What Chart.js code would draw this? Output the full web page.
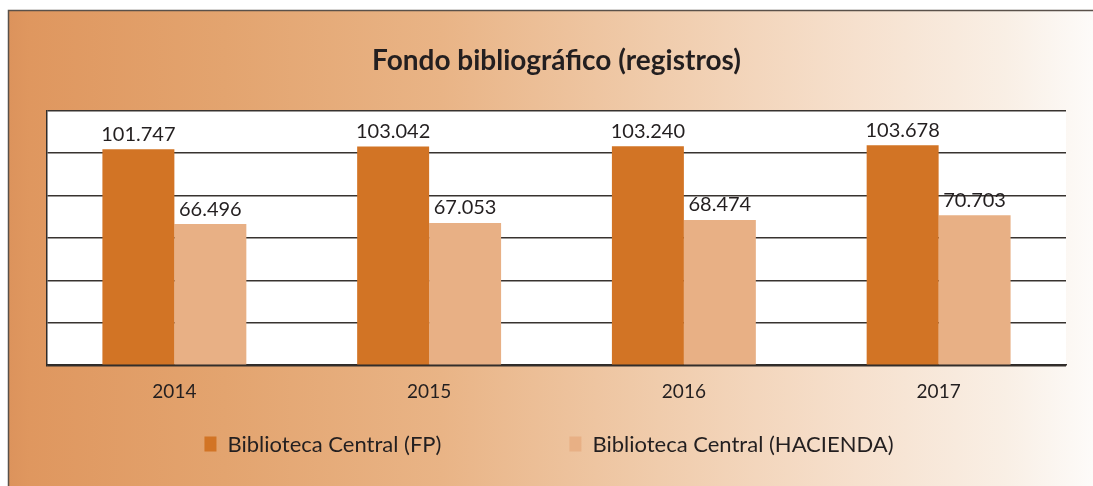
<!DOCTYPE html>
<html><head><meta charset="utf-8">
<script src="https://cdn.jsdelivr.net/npm/chart.js@4.4.0/dist/chart.umd.min.js"></script>
<style>html,body{margin:0;padding:0;background:#fff;overflow:hidden}canvas{display:block}</style>
</head><body>
<canvas id="c" width="1093" height="486"></canvas>
<script>
const years = ['2014', '2015', '2016', '2017'];
const fpValues = [101747, 103042, 103240, 103678];
const haciendaValues = [66496, 67053, 68474, 70703];
const seriesNames = ['Biblioteca Central (FP)', 'Biblioteca Central (HACIENDA)'];
const yMin = 0;
const yMax = 120000;
const yStep = 20000;
const titleText = 'Fondo bibliográfico (registros)';

const TEXT = '#231f20';
const FONT = 'Lato, "Open Sans", sans-serif';
const fmt = v => String(v).replace(/\B(?=(\d{3})+(?!\d))/g, '.');

const backgroundPlugin = {
  id: 'bg',
  beforeDraw(chart) {
    const {ctx, width, height, chartArea} = chart;
    ctx.save();
    ctx.fillStyle = '#ffffff';
    ctx.fillRect(0, 0, width, height);
    const g = ctx.createLinearGradient(8, 0, width, 0);
    g.addColorStop(0, '#dc935c');
    g.addColorStop(0.02, '#df975f');
    g.addColorStop(0.2, '#e3a46f');
    g.addColorStop(0.4, '#e9b486');
    g.addColorStop(0.6, '#f0ccac');
    g.addColorStop(0.78, '#f6e0cd');
    g.addColorStop(0.92, '#f9efe5');
    g.addColorStop(1, '#fdfbf9');
    ctx.fillStyle = g;
    ctx.fillRect(8, 10, width - 8, height - 10);
    ctx.strokeStyle = '#5a514a';
    ctx.lineWidth = 1.5;
    ctx.beginPath();
    ctx.moveTo(8.5, height);
    ctx.lineTo(8.5, 10.5);
    ctx.lineTo(width, 10.5);
    ctx.stroke();
    ctx.fillStyle = '#ffffff';
    ctx.fillRect(chartArea.left, chartArea.top, chartArea.right - chartArea.left, chartArea.bottom - chartArea.top);
    ctx.restore();
  }
};

const valueLabelPlugin = {
  id: 'valueLabels',
  afterDatasetsDraw(chart) {
    const {ctx} = chart;
    ctx.save();
    ctx.fillStyle = TEXT;
    ctx.font = '20px ' + FONT;
    ctx.textAlign = 'center';
    ctx.textBaseline = 'bottom';
    chart.data.datasets.forEach((ds, di) => {
      const meta = chart.getDatasetMeta(di);
      meta.data.forEach((bar, i) => {
        ctx.fillText(fmt(ds.data[i]), bar.x, bar.y - 5);
      });
    });
    ctx.restore();
  }
};

const customLegendPlugin = {
  id: 'customLegend',
  afterDraw(chart) {
    const {ctx} = chart;
    ctx.save();
    ctx.font = '22px ' + FONT;
    ctx.textBaseline = 'middle';
    ctx.textAlign = 'left';
    const boxW = 12, boxH = 15, gapText = 11, gapItems = 128;
    const items = chart.data.datasets.map(ds => ({
      text: ds.label, color: ds.backgroundColor,
      w: boxW + gapText + ctx.measureText(ds.label).width
    }));
    const total = items.reduce((s, it) => s + it.w, 0) + gapItems * (items.length - 1);
    let x = 549 - total / 2;
    const cy = 444;
    items.forEach(it => {
      ctx.fillStyle = it.color;
      ctx.fillRect(x, cy - boxH / 2, boxW, boxH);
      ctx.fillStyle = TEXT;
      ctx.fillText(it.text, x + boxW + gapText, cy + 1);
      x += it.w + gapItems;
    });
    ctx.restore();
  }
};

new Chart(document.getElementById('c'), {
  type: 'bar',
  data: {
    labels: years,
    datasets: [
      {label: seriesNames[0], data: fpValues, backgroundColor: '#d27425', borderWidth: 0},
      {label: seriesNames[1], data: haciendaValues, backgroundColor: '#e8b085', borderWidth: 0}
    ]
  },
  options: {
    responsive: false,
    animation: false,
    devicePixelRatio: 1,
    categoryPercentage: 0.565,
    barPercentage: 1.0,
    layout: {padding: {left: 47, right: 27, top: 0, bottom: 68}},
    plugins: {
      legend: {display: false},
      tooltip: {enabled: false},
      title: {
        display: true,
        text: titleText,
        color: TEXT,
        font: {family: FONT, size: 28, weight: 'bold'},
        padding: {top: 44, bottom: 33}
      }
    },
    scales: {
      x: {
        grid: {display: false, drawTicks: false},
        border: {display: true, color: '#2f2b28', width: 1.5},
        ticks: {color: TEXT, font: {family: FONT, size: 19}, padding: 15}
      },
      y: {
        min: yMin,
        max: yMax,
        ticks: {display: false, stepSize: yStep},
        grid: {color: '#38332f', lineWidth: 1.4, drawTicks: false},
        border: {display: true, color: '#2f2b28', width: 1.5}
      }
    }
  },
  plugins: [backgroundPlugin, valueLabelPlugin, customLegendPlugin]
});
</script>
</body></html>
